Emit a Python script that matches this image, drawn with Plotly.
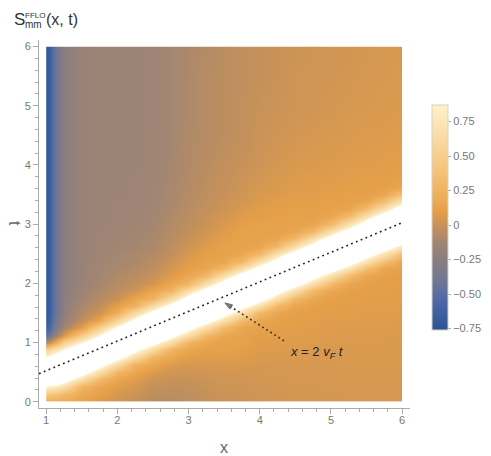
import plotly.graph_objects as go

# grid of the density plot (x across, t up)
x_vals = [1.0, 1.02, 1.05, 1.1, 1.15, 1.25, 1.5, 1.75, 2.0, 2.25, 2.5, 2.75, 3.0,
          3.25, 3.5, 3.75, 4.0, 4.25, 4.5, 4.75, 5.0, 5.25, 5.5, 5.75, 6.0]
t_vals = [0, 0.125, 0.25, 0.375, 0.5, 0.625, 0.75, 0.875, 1, 1.125, 1.25, 1.375,
          1.5, 1.625, 1.75, 1.875, 2, 2.125, 2.25, 2.375, 2.5, 2.625, 2.75, 2.875,
          3, 3.125, 3.25, 3.375, 3.5, 3.625, 3.75, 4, 4.5, 5, 5.5, 6]

# S_mm(x, t), one list per x column (bottom to top in t)
s_columns = [
    # x = 1.0
    [0.22, 0.45, 0.89, 1.26, 1.50, 1.26, 0.89, 0.45, -0.12, -0.50, -0.66, -0.72,
     -0.74, -0.74, -0.74, -0.74, -0.74, -0.74, -0.74, -0.74, -0.74, -0.74, -0.74, -0.74,
     -0.74, -0.74, -0.74, -0.74, -0.74, -0.74, -0.74, -0.74, -0.74, -0.74, -0.74, -0.74],
    # x = 1.02
    [0.20, 0.42, 0.86, 1.23, 1.50, 1.29, 0.92, 0.54, -0.05, -0.46, -0.63, -0.68,
     -0.70, -0.70, -0.70, -0.70, -0.70, -0.70, -0.70, -0.70, -0.70, -0.70, -0.70, -0.70,
     -0.70, -0.70, -0.70, -0.70, -0.70, -0.70, -0.70, -0.70, -0.70, -0.70, -0.70, -0.70],
    # x = 1.05
    [0.20, 0.40, 0.82, 1.19, 1.50, 1.34, 0.97, 0.59, 0.02, -0.38, -0.55, -0.60,
     -0.62, -0.63, -0.63, -0.63, -0.63, -0.63, -0.63, -0.63, -0.63, -0.63, -0.63, -0.63,
     -0.63, -0.63, -0.63, -0.63, -0.63, -0.63, -0.63, -0.63, -0.63, -0.63, -0.63, -0.63],
    # x = 1.1
    [0.20, 0.38, 0.81, 1.19, 1.50, 1.45, 1.04, 0.67, 0.12, -0.25, -0.42, -0.47,
     -0.49, -0.50, -0.50, -0.50, -0.50, -0.50, -0.50, -0.50, -0.50, -0.50, -0.50, -0.50,
     -0.50, -0.50, -0.50, -0.50, -0.50, -0.50, -0.50, -0.50, -0.50, -0.50, -0.50, -0.50],
    # x = 1.15
    [0.20, 0.36, 0.78, 1.16, 1.50, 1.50, 1.13, 0.75, 0.25, -0.12, -0.28, -0.34,
     -0.37, -0.38, -0.38, -0.38, -0.38, -0.38, -0.38, -0.38, -0.38, -0.38, -0.38, -0.38,
     -0.38, -0.38, -0.38, -0.38, -0.38, -0.38, -0.38, -0.38, -0.38, -0.38, -0.38, -0.38],
    # x = 1.25
    [0.19, 0.29, 0.66, 1.04, 1.41, 1.50, 1.29, 0.91, 0.54, 0.06, -0.12, -0.18,
     -0.21, -0.22, -0.23, -0.23, -0.23, -0.23, -0.23, -0.23, -0.23, -0.23, -0.23, -0.23,
     -0.23, -0.23, -0.23, -0.23, -0.23, -0.23, -0.23, -0.23, -0.23, -0.23, -0.23, -0.23],
    # x = 1.5
    [0.14, 0.17, 0.27, 0.65, 1.02, 1.40, 1.50, 1.25, 0.88, 0.50, 0.10, -0.02,
     -0.07, -0.10, -0.13, -0.15, -0.16, -0.17, -0.17, -0.17, -0.17, -0.17, -0.17, -0.17,
     -0.17, -0.17, -0.17, -0.17, -0.17, -0.17, -0.17, -0.17, -0.17, -0.17, -0.17, -0.17],
    # x = 1.75
    [0.07, 0.11, 0.17, 0.29, 0.66, 1.04, 1.41, 1.50, 1.26, 0.89, 0.51, 0.14,
     0.01, -0.03, -0.06, -0.09, -0.11, -0.12, -0.13, -0.14, -0.14, -0.15, -0.15, -0.15,
     -0.16, -0.16, -0.16, -0.16, -0.16, -0.16, -0.16, -0.16, -0.16, -0.16, -0.16, -0.16],
    # x = 2.0
    [0.02, 0.05, 0.09, 0.15, 0.26, 0.63, 1.01, 1.38, 1.60, 1.31, 0.93, 0.56,
     0.20, 0.11, 0.00, -0.04, -0.06, -0.08, -0.10, -0.11, -0.12, -0.13, -0.14, -0.14,
     -0.15, -0.15, -0.15, -0.15, -0.16, -0.16, -0.16, -0.16, -0.16, -0.16, -0.16, -0.16],
    # x = 2.25
    [-0.01, 0.01, 0.04, 0.08, 0.15, 0.24, 0.62, 0.99, 1.37, 1.75, 1.37, 0.99,
     0.62, 0.24, 0.15, 0.02, -0.02, -0.05, -0.07, -0.09, -0.10, -0.12, -0.12, -0.13,
     -0.14, -0.14, -0.15, -0.15, -0.15, -0.15, -0.15, -0.16, -0.16, -0.16, -0.16, -0.16],
    # x = 2.5
    [-0.05, -0.03, -0.01, 0.02, 0.06, 0.15, 0.25, 0.62, 1.00, 1.37, 1.75, 1.37,
     1.00, 0.62, 0.25, 0.15, 0.04, 0.00, -0.03, -0.05, -0.07, -0.09, -0.10, -0.11,
     -0.12, -0.12, -0.13, -0.13, -0.14, -0.14, -0.14, -0.14, -0.15, -0.15, -0.15, -0.15],
    # x = 2.75
    [-0.05, -0.04, -0.02, 0.00, 0.03, 0.07, 0.15, 0.26, 0.63, 1.00, 1.38, 1.75,
     1.38, 1.00, 0.63, 0.26, 0.15, 0.08, 0.04, 0.01, -0.02, -0.03, -0.05, -0.06,
     -0.07, -0.08, -0.09, -0.10, -0.10, -0.10, -0.11, -0.11, -0.12, -0.12, -0.12, -0.12],
    # x = 3.0
    [-0.04, -0.03, -0.02, 0.00, 0.02, 0.05, 0.09, 0.15, 0.27, 0.65, 1.02, 1.40,
     1.78, 1.40, 1.02, 0.65, 0.27, 0.15, 0.11, 0.08, 0.05, 0.02, 0.00, -0.02,
     -0.03, -0.04, -0.05, -0.06, -0.06, -0.07, -0.07, -0.08, -0.08, -0.09, -0.09, -0.09],
    # x = 3.25
    [-0.02, -0.01, 0.00, 0.01, 0.03, 0.06, 0.08, 0.12, 0.15, 0.29, 0.66, 1.04,
     1.41, 1.79, 1.41, 1.04, 0.66, 0.29, 0.15, 0.12, 0.11, 0.08, 0.05, 0.03,
     0.01, 0.00, -0.01, -0.02, -0.03, -0.04, -0.04, -0.05, -0.06, -0.06, -0.06, -0.07],
    # x = 3.5
    [0.00, 0.01, 0.02, 0.03, 0.04, 0.06, 0.09, 0.12, 0.12, 0.15, 0.30, 0.68,
     1.05, 1.43, 1.80, 1.43, 1.05, 0.68, 0.30, 0.15, 0.12, 0.12, 0.10, 0.08,
     0.06, 0.04, 0.02, 0.01, 0.00, -0.01, -0.01, -0.02, -0.04, -0.04, -0.04, -0.04],
    # x = 3.75
    [0.01, 0.01, 0.02, 0.03, 0.04, 0.06, 0.08, 0.10, 0.12, 0.12, 0.15, 0.30,
     0.68, 1.05, 1.43, 1.80, 1.43, 1.05, 0.68, 0.30, 0.15, 0.12, 0.12, 0.12,
     0.10, 0.08, 0.06, 0.04, 0.03, 0.02, 0.01, 0.00, -0.02, -0.02, -0.03, -0.03],
    # x = 4.0
    [0.02, 0.03, 0.03, 0.04, 0.04, 0.05, 0.06, 0.07, 0.08, 0.10, 0.11, 0.15,
     0.30, 0.68, 1.05, 1.43, 1.80, 1.43, 1.05, 0.68, 0.30, 0.15, 0.12, 0.12,
     0.12, 0.10, 0.09, 0.07, 0.06, 0.05, 0.04, 0.02, 0.01, 0.00, -0.01, -0.01],
    # x = 4.25
    [0.03, 0.03, 0.04, 0.04, 0.05, 0.05, 0.06, 0.07, 0.08, 0.09, 0.10, 0.11,
     0.15, 0.30, 0.68, 1.05, 1.43, 1.80, 1.43, 1.05, 0.68, 0.30, 0.15, 0.12,
     0.12, 0.11, 0.10, 0.09, 0.07, 0.06, 0.06, 0.04, 0.02, 0.01, 0.00, 0.00],
    # x = 4.5
    [0.04, 0.04, 0.04, 0.05, 0.05, 0.05, 0.06, 0.07, 0.07, 0.08, 0.09, 0.10,
     0.11, 0.15, 0.30, 0.68, 1.05, 1.43, 1.80, 1.43, 1.05, 0.68, 0.30, 0.15,
     0.12, 0.12, 0.11, 0.10, 0.09, 0.08, 0.07, 0.06, 0.04, 0.02, 0.02, 0.01],
    # x = 4.75
    [0.04, 0.04, 0.04, 0.05, 0.05, 0.05, 0.06, 0.06, 0.07, 0.08, 0.08, 0.09,
     0.10, 0.11, 0.15, 0.30, 0.68, 1.05, 1.43, 1.80, 1.43, 1.05, 0.68, 0.30,
     0.15, 0.12, 0.11, 0.10, 0.09, 0.08, 0.08, 0.06, 0.05, 0.03, 0.03, 0.02],
    # x = 5.0
    [0.04, 0.04, 0.05, 0.05, 0.05, 0.05, 0.06, 0.06, 0.07, 0.07, 0.08, 0.08,
     0.09, 0.10, 0.11, 0.15, 0.32, 0.69, 1.07, 1.44, 1.82, 1.44, 1.07, 0.69,
     0.32, 0.15, 0.12, 0.11, 0.10, 0.09, 0.08, 0.07, 0.05, 0.04, 0.03, 0.03],
    # x = 5.25
    [0.04, 0.05, 0.05, 0.05, 0.05, 0.06, 0.06, 0.06, 0.07, 0.07, 0.07, 0.08,
     0.09, 0.09, 0.10, 0.11, 0.15, 0.33, 0.71, 1.08, 1.46, 1.84, 1.46, 1.08,
     0.71, 0.33, 0.15, 0.11, 0.11, 0.10, 0.09, 0.08, 0.06, 0.05, 0.04, 0.03],
    # x = 5.5
    [0.04, 0.05, 0.05, 0.05, 0.05, 0.06, 0.06, 0.06, 0.07, 0.07, 0.07, 0.08,
     0.08, 0.09, 0.09, 0.10, 0.11, 0.15, 0.35, 0.72, 1.10, 1.47, 1.85, 1.47,
     1.10, 0.72, 0.35, 0.15, 0.11, 0.10, 0.10, 0.08, 0.07, 0.05, 0.05, 0.04],
    # x = 5.75
    [0.05, 0.05, 0.05, 0.05, 0.05, 0.06, 0.06, 0.06, 0.06, 0.07, 0.07, 0.08,
     0.08, 0.09, 0.09, 0.10, 0.10, 0.11, 0.15, 0.36, 0.74, 1.11, 1.49, 1.86,
     1.49, 1.11, 0.74, 0.36, 0.15, 0.11, 0.10, 0.09, 0.07, 0.06, 0.05, 0.05],
    # x = 6.0
    [0.05, 0.05, 0.05, 0.05, 0.05, 0.06, 0.06, 0.06, 0.06, 0.07, 0.07, 0.07,
     0.08, 0.08, 0.09, 0.09, 0.10, 0.10, 0.11, 0.15, 0.38, 0.75, 1.13, 1.50,
     1.88, 1.50, 1.13, 0.75, 0.38, 0.15, 0.11, 0.09, 0.08, 0.06, 0.06, 0.05],
]

# light cone x = 2 v_F t and the arrow pointing at it
cone_x = [0.9, 6.0]
cone_t = [0.475, 3.025]
arrow_x = [4.34, 3.51]
arrow_t = [1.03, 1.67]

x_ticks = [1, 2, 3, 4, 5, 6]
t_ticks = [0, 1, 2, 3, 4, 5, 6]
cbar_ticks = [-0.75, -0.5, -0.25, 0, 0.25, 0.5, 0.75]
cbar_labels = ["\u22120.75", "\u22120.50", "\u22120.25", "0", "0.25", "0.50", "0.75"]

Z_MIN, Z_TOP = -0.76, 0.87

# blue -> grey -> orange -> pale yellow gradient
gradient = [
    (-0.76, "#2b5391"), (-0.62, "#3f62a3"), (-0.50, "#5a6da1"), (-0.38, "#757891"),
    (-0.25, "#887d80"), (-0.12, "#a48671"), (0.00, "#c89258"), (0.10, "#e59f49"),
    (0.20, "#eead59"), (0.35, "#f3be72"), (0.50, "#f7cf8c"), (0.65, "#fadca8"),
    (0.87, "#fff1c8"),
]


def scale(zmax):
    return [((v - Z_MIN) / (zmax - Z_MIN), c) for v, c in gradient]


# values above the legend range are drawn white
field_scale = scale(1.0) + [((Z_TOP + 0.002 - Z_MIN) / (1.0 - Z_MIN), "#ffffff"), (1.0, "#ffffff")]
bar_scale = scale(Z_TOP)

z = [list(row) for row in zip(*s_columns)]

fig = go.Figure()
fig.add_trace(
    go.Contour(
        x=x_vals,
        y=t_vals,
        z=z,
        zmin=Z_MIN,
        zmax=1.0,
        colorscale=field_scale,
        contours=dict(coloring="heatmap", showlines=False),
        line=dict(width=0),
        showscale=False,
        hoverinfo="skip",
    )
)

L, R, T, B = 39, 410, 40, 408


def px(xp, yp):
    return (xp - L) / (R - L), (B - yp) / (B - T)


cb_x, cb_y = px(432, 217.5)
fig.add_trace(
    go.Scatter(
        x=[3.0],
        y=[-1.0],
        mode="markers",
        marker=dict(
            size=1,
            color=[0.0],
            cmin=Z_MIN,
            cmax=Z_TOP,
            colorscale=bar_scale,
            showscale=True,
            colorbar=dict(
                thickness=16,
                len=225,
                lenmode="pixels",
                x=cb_x,
                xanchor="left",
                xpad=0,
                y=cb_y,
                yanchor="middle",
                ypad=0,
                outlinewidth=1,
                outlinecolor="#d8d2c4",
                tickvals=cbar_ticks,
                ticktext=cbar_labels,
                ticks="outside",
                ticklen=3,
                tickcolor="#aaaaaa",
                tickfont=dict(size=11, color="#777777"),
            ),
        ),
        hoverinfo="skip",
        showlegend=False,
    )
)

fig.add_trace(
    go.Scatter(
        x=cone_x,
        y=cone_t,
        mode="lines",
        line=dict(color="#222222", width=1.6, dash="1.8px,3.4px"),
        hoverinfo="skip",
        showlegend=False,
    )
)
fig.add_trace(
    go.Scatter(
        x=arrow_x,
        y=arrow_t,
        mode="lines+markers",
        line=dict(color="#333333", width=1.6, dash="1.8px,3px"),
        marker=dict(symbol="arrow", size=[0, 8], angleref="previous", color="#444444"),
        hoverinfo="skip",
        showlegend=False,
    )
)

axis_style = dict(
    showgrid=False,
    zeroline=False,
    showline=True,
    linecolor="#aaaaaa",
    linewidth=1,
    ticks="outside",
    ticklen=5,
    tickcolor="#aaaaaa",
    tickfont=dict(size=11, color="#777777"),
    minor=dict(ticks="outside", ticklen=3, tickcolor="#aaaaaa", tick0=0, dtick=0.2, showgrid=False),
)
fig.update_xaxes(range=[0.9, 6.11], tickvals=x_ticks, ticklabelstandoff=-3, **axis_style)
fig.update_yaxes(range=[-0.105, 6.11], tickvals=t_ticks, **axis_style)


def note(text, xp, yp, size, color="#333333", xanchor="left", angle=0):
    ax, ay = px(xp, yp)
    fig.add_annotation(
        x=ax, y=ay, xref="paper", yref="paper", text=text, showarrow=False,
        xanchor=xanchor, yanchor="middle", textangle=angle,
        font=dict(size=size, color=color),
    )


note("S", 12, 20, 17)
note("FFLO", 23, 15, 8)
note("mm", 23, 24, 10)
note("(x, t)", 44, 20, 16)
note("t", 15, 223, 16, "#666666", "center", 90)
note("x", 224, 447, 16, "#666666", "center")
note("<i>x</i> = 2 <i>v</i><sub><i>F</i></sub> <i>t</i>", 317, 352.5, 13, "#222222", "center")

fig.update_layout(
    width=491,
    height=456,
    margin=dict(l=L, r=491 - R, t=T, b=456 - B, autoexpand=False),
    paper_bgcolor="white",
    plot_bgcolor="white",
    showlegend=False,
    font=dict(family="Liberation Sans, Arial, sans-serif", color="#666666"),
)

# the page's default body margin would shift the figure by 8px
fig.write_html(
    "out.html",
    config={"displayModeBar": False},
    post_script="document.body.style.margin = '0px';",
)
